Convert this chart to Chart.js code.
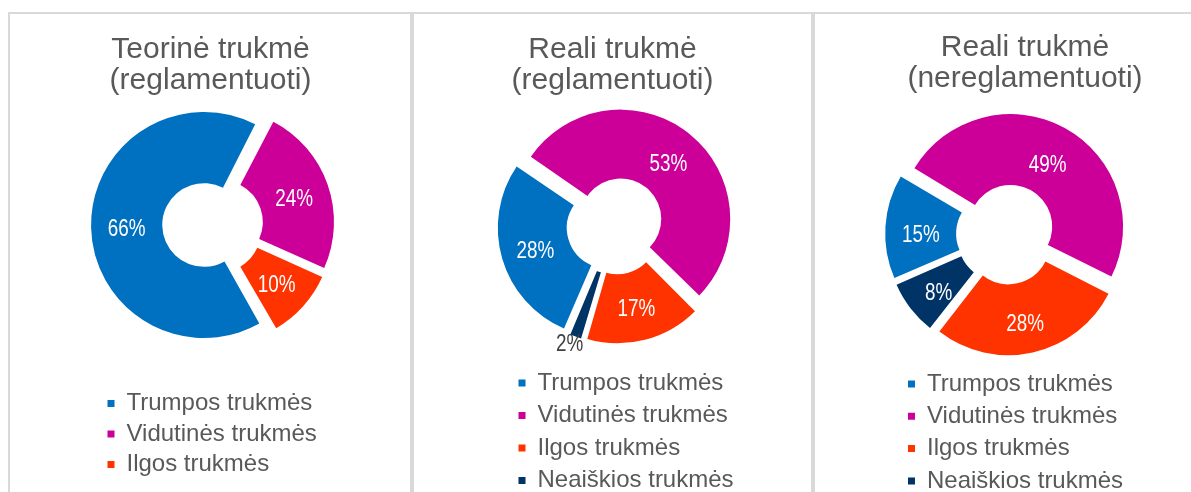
<!DOCTYPE html>
<html>
<head>
<meta charset="utf-8">
<script src="https://cdn.jsdelivr.net/npm/chart.js@4.4.1/dist/chart.umd.min.js"></script>
<style>
  html, body { margin: 0; padding: 0; background: #ffffff; }
  #stage { position: relative; width: 1191px; height: 492px; overflow: hidden; background: #ffffff; }
  .frame { position: absolute; background: #d9d9d9; }
  #stage canvas { position: absolute; top: 0; }
</style>
</head>
<body>
<div id="stage">
  <div class="frame" style="left:8px; top:12px; width:1183px; height:2px;"></div>
  <div class="frame" style="left:8px; top:12px; width:2px; height:480px;"></div>
  <div class="frame" style="left:410px; top:12px; width:4px; height:480px;"></div>
  <div class="frame" style="left:811px; top:12px; width:4px; height:480px;"></div>
</div>
<script>
// ---------------- data ----------------
const categories = ['Trumpos trukmės', 'Vidutinės trukmės', 'Ilgos trukmės', 'Neaiškios trukmės'];

const titleTeorineReg = ['Teorinė trukmė', '(reglamentuoti)'];
const titleRealiReg   = ['Reali trukmė', '(reglamentuoti)'];
const titleRealiNereg = ['Reali trukmė', '(nereglamentuoti)'];

const teorineReg = [66, 24, 10];      // %
const realiReg   = [28, 53, 17, 2];   // %
const realiNereg = [15, 49, 28, 8];   // %

// ---------------- styles ----------------
const sliceColors = ['#0070C0', '#CC0099', '#FF3300', '#003366'];
const textColor = '#595959';
const FONT = "'Liberation Sans', Arial, sans-serif";

// panel layout (page pixel positions)
const panels = [
  { left: 10,  width: 400, title: titleTeorineReg, values: teorineReg,
    cx: 212.75, cy: 224.8, radius: 113,   explode: 8.7, rotation: 150,
    titleX: 210.5, titleMid: 49.6, legendX: 107.5, legendY: 391.5, legendGap: 6.5, labelDy: 3 },
  { left: 410, width: 400, title: titleRealiReg, values: realiReg,
    cx: 615.4, cy: 225.6, radius: 109.5, explode: 8.4, rotation: 203.3,
    titleX: 612.5, titleMid: 49.6, legendX: 518.5, legendY: 371, legendGap: 8.5, labelDy: 3 },
  { left: 810, width: 381, title: titleRealiNereg, values: realiNereg,
    cx: 1006.4, cy: 234.2, radius: 112.5, explode: 8.7, rotation: 246.6,
    titleX: 1025, titleMid: 48.1, legendX: 908, legendY: 372, legendGap: 8.3, labelDy: 7 }
];

// Chart.js grows an offset arc's radii by offset/4*fix; undo it so offset is a pure explode translation.
function arcGrowth(arc) {
  const t = (arc.options.offset || 0) / 4;
  return t * (1 - Math.sin(Math.min(Math.PI, arc.circumference || 0)));
}

const panelAdjust = {
  id: 'panelAdjust',
  afterLayout(chart, args, opts) {
    const t = chart.titleBlock;
    if (t && opts.titleX != null) {
      t.left = opts.titleX - 170;
      t.right = opts.titleX + 170;
      t.width = 340;
    }
    const lg = chart.legend;
    if (lg) {
      lg.right = lg.left + 300;
      lg.width = 300;
    }
  },
  afterDatasetUpdate(chart, args) {
    for (const arc of args.meta.data) {
      const g = arcGrowth(arc);
      arc.outerRadius -= g;
      arc.innerRadius -= g;
    }
  },
  afterDatasetsDraw(chart, args, opts) {
    const ctx = chart.ctx;
    const meta = chart.getDatasetMeta(0);
    const values = chart.data.datasets[0].data;
    ctx.save();
    ctx.textAlign = 'center';
    ctx.textBaseline = 'middle';
    ctx.font = '23px ' + FONT;
    meta.data.forEach((arc, i) => {
      const t = (arc.options.offset || 0) / 4;
      const g = arcGrowth(arc);
      const mid = (arc.startAngle + arc.endAngle) / 2;
      const inner = arc.innerRadius + g;
      const outer = arc.outerRadius + g;
      const small = values[i] < 5;
      const dist = t + (small ? outer + 9 : (inner + outer) / 2);
      const x = arc.x + Math.cos(mid) * dist - (small ? 3 : 0);
      const y = arc.y + Math.sin(mid) * dist + (small ? 0 : (opts.labelDy || 0));
      ctx.fillStyle = small ? '#404040' : '#ffffff';
      ctx.save();
      ctx.translate(x, y);
      ctx.scale(0.82, 1);
      ctx.fillText(values[i] + '%', 0, 0);
      ctx.restore();
    });
    ctx.restore();
  }
};

const stage = document.getElementById('stage');
const H = 510;
const legendFontSize = 24;
const titleSize = 30, titleLH = 31;

panels.forEach((p) => {
  const canvas = document.createElement('canvas');
  canvas.width = p.width;
  canvas.height = H;
  canvas.style.left = p.left + 'px';
  stage.appendChild(canvas);

  const n = p.values.length;
  const legendLeft = p.legendX - p.legendGap;
  const padL = legendLeft - p.left;
  const areaW = 2 * (p.cx - legendLeft);
  const padR = p.width - padL - areaW;
  const legendTop = p.legendY - p.legendGap;
  const legendH = n * (legendFontSize + p.legendGap) + 10;
  const padB = H - legendTop - legendH;
  const areaTop = 2 * p.cy - legendTop;
  const titlePadTop = p.titleMid - titleLH / 2;
  const titlePadBottom = areaTop - titlePadTop - 2 * titleLH;

  new Chart(canvas, {
    type: 'doughnut',
    data: {
      labels: categories.slice(0, n),
      datasets: [{
        data: p.values,
        backgroundColor: sliceColors.slice(0, n),
        borderWidth: 0,
        offset: 4 * p.explode,
        hoverOffset: 0,
        rotation: p.rotation,
        cutout: '37%',
        radius: p.radius
      }]
    },
    options: {
      responsive: false,
      animation: false,
      events: [],
      layout: { padding: { left: padL, right: padR, top: 0, bottom: padB } },
      plugins: {
        title: {
          display: true,
          text: p.title,
          color: textColor,
          font: { family: FONT, size: titleSize, weight: 'normal', lineHeight: titleLH / titleSize },
          padding: { top: titlePadTop, bottom: titlePadBottom }
        },
        legend: {
          display: true,
          position: 'bottom',
          align: 'start',
          labels: {
            color: textColor,
            font: { family: FONT, size: legendFontSize },
            boxWidth: 7,
            boxHeight: 7,
            padding: p.legendGap
          }
        },
        tooltip: { enabled: false },
        panelAdjust: { titleX: p.titleX - p.left, labelDy: p.labelDy }
      }
    },
    plugins: [panelAdjust]
  });
});
</script>
</body>
</html>
